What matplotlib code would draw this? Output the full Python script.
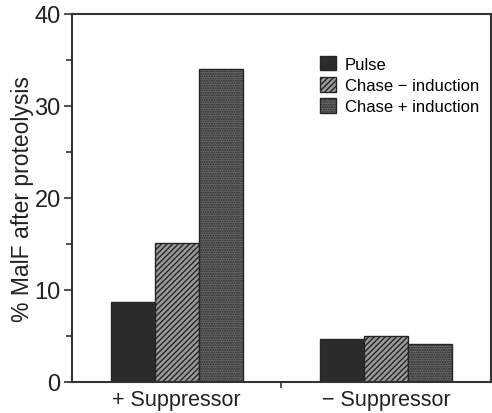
import matplotlib.pyplot as plt
import numpy as np
from matplotlib.ticker import MultipleLocator, FixedLocator

plt.rcParams['font.family'] = ['Liberation Sans', 'DejaVu Sans']
plt.rcParams['hatch.linewidth'] = 1.0

groups = ["+ Suppressor", "\u2212 Suppressor"]
series = ["Pulse", "Chase \u2212 induction", "Chase + induction"]
values = {
    "Pulse": [8.7, 4.7],
    "Chase \u2212 induction": [15.1, 5.0],
    "Chase + induction": [34.0, 4.1],
}
faces = ["#2b2b2b", "#9a9a9a", "#6e6e6e"]
hatches = [None, "//////", "......."]

fig = plt.figure(figsize=(4.92, 4.14), dpi=100)
ax = fig.add_axes([0.146, 0.075, 0.852, 0.889])

x = np.arange(len(groups))
width = 0.21
for i, name in enumerate(series):
    ax.bar(x + (i - 1) * width, values[name], width, color=faces[i],
           edgecolor="#262626", hatch=hatches[i], linewidth=1.0, label=name)

ax.set_xlim(-0.5, 1.5)
ax.set_ylim(0, 40)
ax.yaxis.set_major_locator(MultipleLocator(10))
ax.yaxis.set_minor_locator(MultipleLocator(5))
ax.set_xticks(x)
ax.set_xticklabels(groups, fontsize=15.5, color="#222222")
ax.xaxis.set_minor_locator(FixedLocator([0.5]))
ax.tick_params(axis="x", which="major", length=0, pad=5)
ax.tick_params(axis="x", which="minor", length=4, width=1.2, color="#333333")
ax.tick_params(axis="y", which="major", length=6, width=1.2, labelsize=17,
               color="#333333", labelcolor="#222222", pad=2)
ax.tick_params(axis="y", which="minor", length=4, width=1.2, color="#333333")
for s in ax.spines.values():
    s.set_linewidth(1.5)
    s.set_color("#333333")

ax.set_ylabel("% MalF after proteolysis", fontsize=16.5, color="#222222", labelpad=0)

ax.legend(loc="upper left", bbox_to_anchor=(0.575, 0.905), frameon=False,
          fontsize=12, handlelength=1.0, handleheight=1.0, handletextpad=0.5,
          labelspacing=0.3, borderaxespad=0)

fig.savefig("out.png", dpi=100)
